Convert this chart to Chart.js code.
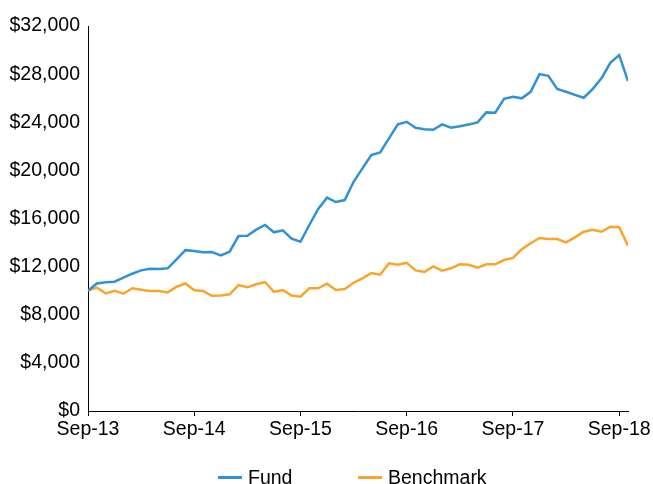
<!DOCTYPE html>
<html>
<head>
<meta charset="utf-8">
<script src="https://cdn.jsdelivr.net/npm/chart.js@4"></script>
<style>
  html, body { margin: 0; padding: 0; background: #fff; }
  #wrap { position: relative; width: 653px; height: 484px; }
  #legend { position: absolute; left: 218px; top: 466px; display: flex; font-family: 'Liberation Sans', Arial, sans-serif; font-size: 19.5px; line-height: 22px; color: #000; }
  .item { display: flex; align-items: center; }
  .item:first-child { width: 140px; }
  .swatch { width: 24px; height: 3px; margin-right: 6px; }
</style>
</head>
<body>
<div id="wrap">
  <canvas id="c" width="653" height="484"></canvas>
  <div id="legend"></div>
</div>
<script>
const months = ['Sep-13','Oct-13','Nov-13','Dec-13','Jan-14','Feb-14','Mar-14','Apr-14','May-14','Jun-14','Jul-14','Aug-14',
  'Sep-14','Oct-14','Nov-14','Dec-14','Jan-15','Feb-15','Mar-15','Apr-15','May-15','Jun-15','Jul-15','Aug-15',
  'Sep-15','Oct-15','Nov-15','Dec-15','Jan-16','Feb-16','Mar-16','Apr-16','May-16','Jun-16','Jul-16','Aug-16',
  'Sep-16','Oct-16','Nov-16','Dec-16','Jan-17','Feb-17','Mar-17','Apr-17','May-17','Jun-17','Jul-17','Aug-17',
  'Sep-17','Oct-17','Nov-17','Dec-17','Jan-18','Feb-18','Mar-18','Apr-18','May-18','Jun-18','Jul-18','Aug-18',
  'Sep-18','Oct-18'];

const fund = [10000,10600,10700,10750,11080,11410,11690,11830,11800,11860,12600,13370,
  13290,13190,13210,12940,13240,14540,14570,15070,15460,14850,15020,14320,
  14070,15460,16790,17730,17370,17530,19050,20170,21270,21500,22660,23820,
  24040,23540,23410,23380,23820,23540,23660,23820,23990,24820,24790,25950,
  26120,25990,26530,28000,27860,26760,26530,26280,26040,26760,27650,28940,
  29580,27420];

const benchmark = [10000,10250,9780,10000,9750,10200,10080,9970,9970,9860,10330,10600,
  10030,9970,9580,9610,9700,10470,10280,10530,10720,9910,10055,9600,
  9500,10200,10200,10580,10055,10140,10660,11030,11470,11330,12270,12160,
  12320,11690,11550,12020,11660,11860,12190,12160,11910,12190,12190,12550,
  12720,13440,13940,14380,14290,14290,14020,14430,14900,15070,14900,15320,
  15270,13740];

const tickLabels = ['Sep-13','Sep-14','Sep-15','Sep-16','Sep-17','Sep-18'];
const seriesNames = ['Fund','Benchmark'];
const seriesColors = ['#2F93D3','#F8A52B'];

Chart.defaults.font.family = "'Liberation Sans', Arial, sans-serif";
Chart.defaults.font.size = 19.5;
Chart.defaults.color = '#000';

const htmlLegend = {
  id: 'htmlLegend',
  afterUpdate(chart) {
    const box = document.getElementById('legend');
    box.innerHTML = '';
    chart.data.datasets.forEach(ds => {
      const item = document.createElement('div');
      item.className = 'item';
      const sw = document.createElement('span');
      sw.className = 'swatch';
      sw.style.background = ds.borderColor;
      const tx = document.createElement('span');
      tx.textContent = ds.label;
      item.appendChild(sw);
      item.appendChild(tx);
      box.appendChild(item);
    });
  }
};

const toPoints = arr => arr.map((y, i) => ({ x: i, y: y }));

new Chart(document.getElementById('c'), {
  type: 'line',
  data: {
    datasets: [
      { label: seriesNames[0], data: toPoints(fund), borderColor: seriesColors[0], backgroundColor: seriesColors[0], borderWidth: 2.5, pointRadius: 0, tension: 0 },
      { label: seriesNames[1], data: toPoints(benchmark), borderColor: seriesColors[1], backgroundColor: seriesColors[1], borderWidth: 2.5, pointRadius: 0, tension: 0 }
    ]
  },
  options: {
    responsive: false,
    animation: false,
    layout: { padding: { left: 0, right: 24, top: 26, bottom: 43 } },
    plugins: { legend: { display: false }, tooltip: { enabled: false } },
    scales: {
      x: {
        type: 'linear',
        min: 0,
        max: months.length - 1,
        grid: { display: true, drawOnChartArea: false, drawTicks: true, tickLength: 5, color: '#000' },
        border: { display: true, color: '#000', width: 1 },
        ticks: {
          stepSize: 12,
          includeBounds: false,
          autoSkip: false,
          maxRotation: 0,
          padding: 2,
          color: '#000',
          callback: (v) => {
            const lab = months[v];
            return tickLabels.includes(lab) ? lab : null;
          }
        },
        afterFit: (s) => { s.height = 30; }
      },
      y: {
        min: 0,
        max: 32000,
        grid: { display: false, drawTicks: false },
        border: { display: true, color: '#000', width: 1 },
        ticks: {
          stepSize: 4000,
          padding: 8,
          color: '#000',
          callback: (v) => '$' + v.toLocaleString('en-US')
        },
        afterFit: (s) => { s.width = 88; }
      }
    }
  },
  plugins: [htmlLegend]
});
</script>
</body>
</html>
